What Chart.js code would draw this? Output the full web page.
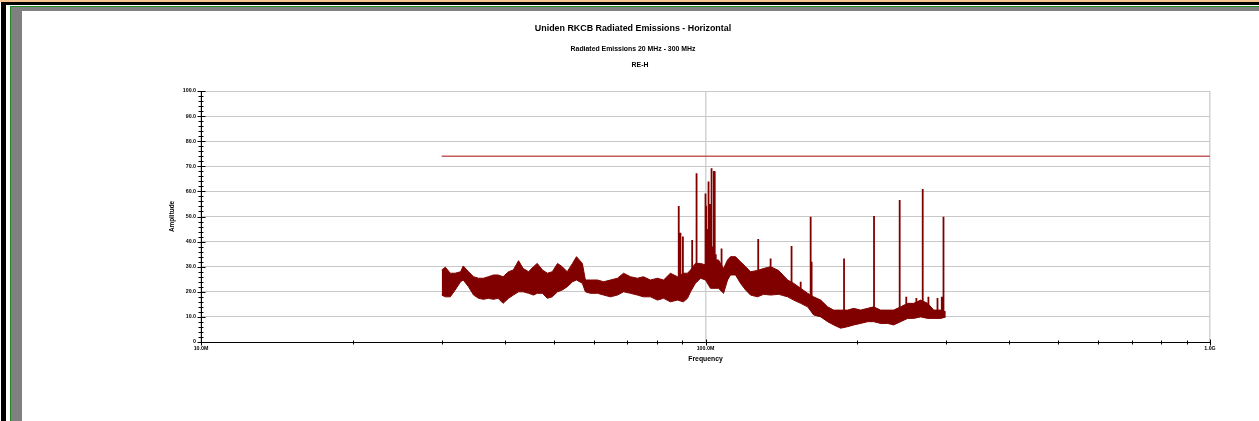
<!DOCTYPE html>
<html lang="en">
<head>
<meta charset="UTF-8">
<title>Uniden RKCB Radiated Emissions - Horizontal</title>
<style>
    html, body {
        margin: 0;
        padding: 0;
        width: 1259px;
        height: 421px;
        overflow: hidden;
        background: #fff;
    }
    #wrap { position: relative; width: 1259px; height: 421px; }
    canvas { position: absolute; left: 0; top: 0; }
    .edge { position: absolute; }
</style>
<script src="https://cdn.jsdelivr.net/npm/chart.js@4.4.1/dist/chart.umd.min.js"></script>
</head>
<body>
<div id="wrap">
    <canvas id="emi" width="1259" height="421"></canvas>
    <div class="edge" style="left:0;top:0;width:1259px;height:2px;background:#f7c391"></div>
    <div class="edge" style="left:6px;top:2px;width:1253px;height:3px;background:#000"></div>
    <div class="edge" style="left:1px;top:2px;width:5px;height:419px;background:#000"></div>
    <div class="edge" style="left:10px;top:6px;width:1249px;height:1px;background:#1f8a1f"></div>
    <div class="edge" style="left:10px;top:6px;width:1px;height:415px;background:#1f8a1f"></div>
    <div class="edge" style="left:11px;top:7px;width:1248px;height:4px;background:#808080"></div>
    <div class="edge" style="left:11px;top:7px;width:11px;height:414px;background:#808080"></div>
</div>
<script>
// titles
const titleLines = ['Uniden RKCB Radiated Emissions - Horizontal', 'Radiated Emissions 20 MHz - 300 MHz', 'RE-H'];

// axes (frequency in MHz, amplitude in dBuV)
const xLabelTicks = [10, 100, 1000];
const xLabels = ['10.0M', '100.0M', '1.0G'];
const xMinorTicks = [10, 20, 30, 40, 50, 60, 70, 80, 90, 100, 200, 300, 400, 500, 600, 700, 800, 900, 1000];
const yLabelTicks = [0, 10, 20, 30, 40, 50, 60, 70, 80, 90, 100];
const yLabels = ['0', '10.0', '20.0', '30.0', '40.0', '50.0', '60.0', '70.0', '80.0', '90.0', '100.0'];
const yMinorTicks = [0, 2, 4, 6, 8, 10, 12, 14, 16, 18, 20, 22, 24, 26, 28, 30, 32, 34, 36, 38, 40, 42, 44, 46, 48, 50,
    52, 54, 56, 58, 60, 62, 64, 66, 68, 70, 72, 74, 76, 78, 80, 82, 84, 86, 88, 90, 92, 94, 96, 98, 100];

// limit line
const limitFreq = [30, 1000];
const limitLevel = [74, 74];

// measured trace, as the top and bottom of the noise band
const traceFreq = [30.0, 30.5, 31.2, 31.9, 32.7, 33.1, 33.9, 34.7, 35.5, 36.3,
    37.1, 38.0, 38.8, 39.7, 40.7, 41.6, 42.6, 43.5, 44.6, 45.6,
    46.4, 47.5, 48.6, 49.7, 50.9, 52.0, 53.2, 54.5, 55.5, 57.0,
    57.8, 59.1, 61.1, 62.8, 64.8, 66.9, 68.8, 71.0, 73.3, 75.3,
    77.8, 80.3, 82.6, 85.2, 88.0, 90.4, 92.1, 93.4, 95.5, 97.8,
    100, 102.3, 106.1, 108.6, 110.6, 112.1, 114.7, 117.3, 120.1, 122.8,
    126.8, 130.4, 134.6, 139.6, 145.5, 149.5, 154.4, 159.4, 163.8, 169.2,
    174.6, 179.5, 185.3, 191.3, 196.7, 203.0, 209.6, 215.4, 222.4, 229.7,
    236.0, 243.7, 251.6, 258.6, 267.0, 275.7, 283.4, 292.7, 299.4];
const traceTop = [28.7, 29.8, 27.4, 27.4, 28.0, 30.3, 28.0, 26.0, 25.4, 25.4,
    26.0, 26.7, 26.7, 26.0, 28.0, 28.7, 32.4, 29.3, 28.0, 30.0,
    31.3, 28.7, 27.4, 28.0, 31.3, 30.0, 28.0, 31.3, 34.0, 31.3,
    24.7, 24.7, 24.7, 24.0, 24.7, 25.4, 27.4, 26.0, 25.4, 26.0,
    24.7, 25.4, 24.7, 27.4, 26.0, 27.4, 27.4, 28.7, 31.3, 31.3,
    30.7, 32.7, 32.7, 29.3, 32.7, 34.0, 34.0, 32.0, 30.0, 28.0,
    28.5, 29.3, 30.0, 28.5, 24.7, 23.4, 21.4, 19.4, 18.0, 16.7,
    14.0, 12.7, 12.7, 12.7, 13.4, 12.7, 13.4, 14.0, 12.7, 12.7,
    12.7, 14.0, 15.4, 15.4, 16.7, 15.4, 12.7, 12.7, 12.0];
const traceBottom = [18.7, 18.0, 18.0, 20.7, 24.0, 24.7, 22.0, 18.7, 17.4, 17.0,
    17.4, 17.0, 17.4, 15.4, 17.4, 18.7, 20.0, 20.0, 19.4, 18.7,
    19.4, 19.4, 17.4, 18.0, 20.0, 20.7, 22.0, 24.0, 24.7, 23.4,
    20.0, 19.4, 19.4, 18.7, 18.0, 18.7, 20.0, 19.4, 18.7, 18.0,
    18.0, 16.7, 17.4, 16.0, 16.7, 16.0, 17.4, 20.0, 23.4, 25.4,
    24.7, 21.4, 21.4, 19.4, 24.7, 26.7, 26.7, 23.4, 20.7, 18.7,
    18.0, 19.0, 18.7, 19.0, 18.0, 16.7, 15.4, 14.0, 10.8, 10.0,
    8.1, 6.8, 5.5, 6.1, 6.8, 7.4, 8.1, 8.1, 7.4, 7.4,
    6.8, 8.1, 9.4, 9.4, 10.0, 9.4, 9.4, 9.4, 10.0];

// narrow emissions sticking out of the noise
const spikeFreq = [88.5, 89.2, 90.2, 94.1, 96.0, 100.0, 100.3, 100.6, 101.0, 101.4,
    102.0, 102.5, 102.8, 103.3, 103.9, 104.3, 104.8, 107.6, 127.2, 134.6,
    148.1, 154.4, 161.6, 162.3, 188.2, 215.8, 242.6, 250.0, 261.8, 269.5,
    276.6, 288.3, 294.0, 296.3];
const spikePeak = [54.2, 43.5, 42.0, 40.6, 67.2, 59.2, 54.3, 45.0, 40.0, 63.9,
    55.0, 42.0, 69.2, 38.0, 68.1, 68.0, 35.0, 37.3, 41.0, 33.3,
    38.2, 24.0, 49.9, 32.0, 33.3, 50.2, 56.6, 18.0, 17.5, 61.0,
    18.0, 17.5, 18.0, 49.9];
const spikeBase = [22, 22, 22, 24, 24, 26, 26, 26, 26, 26,
    26, 26, 26, 26, 26, 26, 28, 28, 26, 26,
    22, 18, 14, 14, 10, 12, 12, 12, 12, 14,
    12, 11, 11, 11];

const FONT = "'Liberation Sans', Arial, sans-serif";
const TRACE = '#800000';

const pts = (xs, ys) => xs.map((v, i) => ({x: v, y: ys[i]}));
const spikePts = [];
spikeFreq.forEach((f, i) => {
    spikePts.push({x: f, y: spikeBase[i]}, {x: f, y: spikePeak[i]}, {x: f, y: null});
});

const axisTicks = {
    id: 'axisTicks',
    afterDraw(c) {
        const {ctx, scales: {x, y}} = c;
        const ax = Math.round(x.left) + 0.5;
        const ay = Math.round(y.bottom) + 0.5;
        ctx.save();
        ctx.strokeStyle = '#000';
        ctx.lineWidth = 1;
        yMinorTicks.forEach(v => {
            const py = Math.round(y.getPixelForValue(v)) + 0.5;
            const big = v % 10 === 0;
            ctx.beginPath();
            ctx.moveTo(ax - (big ? 4 : 3), py);
            ctx.lineTo(ax + (big ? 4 : 2), py);
            ctx.stroke();
        });
        xMinorTicks.forEach(v => {
            const px = Math.round(x.getPixelForValue(v)) + 0.5;
            const big = xLabelTicks.includes(v);
            ctx.beginPath();
            ctx.moveTo(px, ay - (big ? 3 : 2));
            ctx.lineTo(px, ay + (big ? 3 : 2));
            ctx.stroke();
        });
        ctx.restore();
    }
};

const titles = {
    id: 'titles',
    afterDraw(c) {
        const ctx = c.ctx;
        ctx.save();
        ctx.fillStyle = '#000';
        ctx.textAlign = 'center';
        ctx.textBaseline = 'middle';
        ctx.font = 'bold 8.9px ' + FONT;
        ctx.fillText(titleLines[0], 633, 29);
        ctx.font = 'bold 6.9px ' + FONT;
        ctx.fillText(titleLines[1], 633, 49);
        ctx.fillText(titleLines[2], 640, 65);
        ctx.restore();
    }
};

new Chart(document.getElementById('emi'), {
    type: 'line',
    data: {
        datasets: [
            {
                data: pts(limitFreq, limitLevel),
                borderColor: '#c45a5a',
                borderWidth: 1.5,
                pointRadius: 0,
                fill: false
            },
            {
                data: spikePts,
                borderColor: TRACE,
                borderWidth: 1.8,
                pointRadius: 0,
                spanGaps: false,
                fill: false
            },
            {
                data: pts(traceFreq, traceTop),
                borderColor: TRACE,
                backgroundColor: TRACE,
                borderWidth: 1,
                pointRadius: 0,
                fill: '+1'
            },
            {
                data: pts(traceFreq, traceBottom),
                borderColor: TRACE,
                borderWidth: 1,
                pointRadius: 0,
                fill: false
            }
        ]
    },
    options: {
        responsive: false,
        animation: false,
        devicePixelRatio: 1,
        layout: {padding: {left: 0, right: 49, top: 91, bottom: 0}},
        plugins: {
            legend: {display: false},
            tooltip: {enabled: false},
            title: {display: false}
        },
        elements: {line: {tension: 0}},
        scales: {
            x: {
                type: 'logarithmic',
                min: 10,
                max: 1000,
                afterBuildTicks: s => { s.ticks = xLabelTicks.map(v => ({value: v})); },
                afterFit: s => { s.height = 79; },
                grid: {color: '#d4d4d4', lineWidth: 1.5, drawTicks: false},
                border: {display: true, color: '#000', width: 1},
                ticks: {
                    autoSkip: false,
                    maxRotation: 0,
                    padding: 3,
                    color: '#000',
                    font: {family: FONT, size: 5.3, weight: 'bold'},
                    callback: (v, i) => xLabels[i]
                },
                title: {
                    display: true,
                    text: 'Frequency',
                    color: '#000',
                    font: {family: FONT, size: 6.8, weight: 'bold'},
                    padding: {top: 0, bottom: 58}
                }
            },
            y: {
                min: 0,
                max: 100,
                afterBuildTicks: s => { s.ticks = yLabelTicks.map(v => ({value: v})); },
                afterFit: s => { s.width = 201; },
                grid: {color: '#c8c8c8', lineWidth: 1, drawTicks: false},
                border: {display: true, color: '#000', width: 1},
                ticks: {
                    autoSkip: false,
                    padding: 5,
                    color: '#000',
                    font: {family: FONT, size: 5.3, weight: 'bold'},
                    callback: (v, i) => yLabels[i]
                },
                title: {
                    display: true,
                    text: 'Amplitude',
                    color: '#000',
                    font: {family: FONT, size: 6.4, weight: 'bold'},
                    padding: {top: 168, bottom: 0}
                }
            }
        }
    },
    plugins: [axisTicks, titles]
});
</script>
</body>
</html>
